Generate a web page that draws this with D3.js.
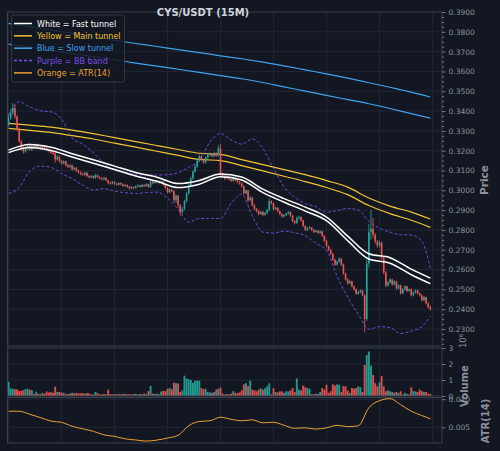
<!DOCTYPE html>
<html><head><meta charset="utf-8">
<script src="https://cdn.jsdelivr.net/npm/d3@7"></script>
<style>body{margin:0;background:#131722;overflow:hidden}svg{display:block}</style>
</head><body>
<svg id="c" width="500" height="451"></svg>
<script>
// ---- DATA (prices in 1e-4 USDT units) ----
const open=[3330,3365,3392,3415,3372,3310,3248,3212,3196,3210,3222,3206,3224,3216,3228,3218,3212,3224,3214,3204,3198,3190,3184,3156,3170,3148,3136,3146,3126,3118,3126,3106,3114,3098,3090,3082,3078,3088,3072,3066,3072,3062,3076,3066,3060,3055,3063,3050,3038,3034,3043,3034,3028,3037,3030,3022,3027,3018,3010,3017,3012,3020,3025,3018,3027,3021,3031,3017,3044,3036,3041,3047,3038,3045,3030,3012,2990,3003,2996,2950,2972,2925,2890,2908,2945,2985,3025,3060,3095,3120,3150,3172,3155,3140,3165,3178,3184,3172,3188,3175,3212,3082,3072,3060,3069,3056,3048,3063,3050,3042,3035,3020,2985,2999,2950,2963,2925,2906,2895,2880,2891,2876,2886,2900,2946,2935,2905,2912,2895,2880,2868,2875,2883,2890,2872,2845,2835,2860,2865,2848,2820,2800,2808,2813,2800,2790,2796,2785,2793,2770,2745,2718,2700,2680,2650,2625,2640,2655,2625,2580,2550,2530,2540,2515,2500,2478,2486,2495,2470,2350,2630,2790,2805,2775,2742,2722,2736,2660,2585,2520,2535,2550,2525,2540,2505,2520,2480,2500,2515,2492,2500,2470,2485,2495,2480,2470,2445,2460,2430,2410];
const high=[3385,3410,3440,3432,3380,3318,3255,3222,3220,3232,3236,3230,3230,3235,3232,3224,3230,3228,3218,3210,3206,3200,3192,3178,3175,3152,3152,3150,3134,3132,3130,3120,3118,3104,3096,3090,3094,3092,3078,3078,3076,3084,3080,3070,3066,3068,3066,3054,3044,3048,3046,3038,3042,3040,3034,3032,3030,3022,3022,3020,3026,3030,3028,3032,3030,3036,3034,3050,3048,3046,3052,3050,3050,3048,3034,3016,3010,3008,3000,2980,2976,2930,2915,2952,2992,3032,3068,3102,3130,3158,3182,3178,3160,3172,3186,3190,3188,3194,3192,3228,3235,3090,3078,3076,3072,3062,3070,3066,3054,3046,3040,3024,3006,3002,2970,2966,2930,2912,2900,2896,2894,2892,2906,2960,2950,2938,2918,2915,2898,2884,2880,2888,2896,2894,2876,2850,2868,2872,2868,2852,2824,2815,2820,2816,2804,2802,2800,2798,2796,2774,2750,2722,2705,2684,2655,2646,2662,2658,2630,2584,2556,2546,2544,2520,2505,2492,2500,2498,2475,2660,2830,2900,2860,2785,2750,2745,2740,2665,2592,2542,2556,2554,2546,2544,2526,2524,2506,2520,2518,2506,2504,2490,2500,2498,2484,2474,2466,2464,2434,2418];
const low=[3322,3355,3380,3360,3300,3240,3200,3185,3190,3202,3200,3200,3210,3210,3212,3205,3208,3208,3198,3190,3184,3178,3140,3150,3140,3128,3130,3120,3112,3112,3100,3100,3092,3084,3076,3072,3074,3066,3060,3062,3056,3058,3062,3054,3050,3050,3046,3030,3028,3030,3028,3022,3024,3024,3016,3018,3012,3004,3006,3006,3008,3014,3012,3014,3016,3018,3012,3014,3030,3032,3036,3032,3034,3024,3006,2984,2986,2990,2940,2936,2912,2872,2882,2900,2938,2978,3018,3052,3088,3112,3142,3148,3134,3136,3160,3170,3166,3168,3168,3170,3070,3064,3052,3056,3050,3042,3044,3044,3036,3028,3012,2978,2980,2942,2944,2918,2900,2888,2874,2876,2870,2872,2880,2895,2928,2898,2900,2888,2874,2862,2864,2870,2878,2866,2838,2828,2830,2852,2842,2814,2794,2795,2804,2794,2784,2786,2780,2780,2764,2740,2712,2694,2674,2644,2618,2620,2634,2618,2574,2544,2524,2526,2510,2494,2472,2472,2480,2464,2284,2340,2610,2750,2760,2730,2710,2712,2650,2576,2510,2512,2528,2518,2520,2498,2500,2474,2476,2494,2486,2488,2464,2466,2480,2474,2464,2438,2440,2424,2404,2392];
const close=[3365,3392,3415,3372,3310,3248,3212,3196,3210,3222,3206,3224,3216,3228,3218,3212,3224,3214,3204,3198,3190,3184,3156,3170,3148,3136,3146,3126,3118,3126,3106,3114,3098,3090,3082,3078,3088,3072,3066,3072,3062,3076,3066,3060,3055,3063,3050,3038,3034,3043,3034,3028,3037,3030,3022,3027,3018,3010,3017,3012,3020,3025,3018,3027,3021,3031,3017,3044,3036,3041,3047,3038,3045,3030,3012,2990,3003,2996,2950,2972,2925,2890,2908,2945,2985,3025,3060,3095,3120,3150,3172,3155,3140,3165,3178,3184,3172,3188,3175,3212,3082,3072,3060,3069,3056,3048,3063,3050,3042,3035,3020,2985,2999,2950,2963,2925,2906,2895,2880,2891,2876,2886,2900,2946,2935,2905,2912,2895,2880,2868,2875,2883,2890,2872,2845,2835,2860,2865,2848,2820,2800,2808,2813,2800,2790,2796,2785,2793,2770,2745,2718,2700,2680,2650,2625,2640,2655,2625,2580,2550,2530,2540,2515,2500,2478,2486,2495,2470,2350,2630,2790,2805,2775,2742,2722,2736,2660,2585,2520,2535,2550,2525,2540,2505,2520,2480,2500,2515,2492,2500,2470,2485,2495,2480,2470,2445,2460,2430,2410,2400];
// volume in units of 10^6
const volume=[0.89,0.48,0.46,0.42,0.42,0.31,0.33,0.37,0.44,0.45,0.40,0.37,0.12,0.27,0.15,0.12,0.20,0.14,0.28,0.22,0.24,0.20,0.58,0.25,0.25,0.22,0.20,0.12,0.12,0.15,0.20,0.18,0.20,0.16,0.18,0.18,0.14,0.18,0.16,0.10,0.10,0.25,0.18,0.10,0.10,0.12,0.10,0.40,0.12,0.10,0.12,0.10,0.14,0.10,0.12,0.14,0.10,0.12,0.10,0.12,0.14,0.10,0.12,0.10,0.16,0.12,0.30,0.63,0.15,0.12,0.15,0.10,0.28,0.32,0.30,0.45,0.50,0.42,0.83,0.80,0.78,0.25,0.35,1.27,1.10,1.05,1.00,0.82,0.96,0.96,0.96,0.50,0.42,0.45,0.25,0.22,0.20,0.25,0.40,0.45,0.52,0.15,0.10,0.12,0.10,0.15,0.30,0.20,0.18,0.22,0.35,0.73,0.80,0.62,0.96,0.40,0.37,0.30,0.40,0.48,0.40,0.48,0.60,0.79,0.10,0.48,0.25,0.22,0.30,0.28,0.20,0.30,0.28,0.35,0.50,0.25,1.10,0.40,0.35,0.65,0.55,0.50,0.45,0.12,0.10,0.15,0.12,0.25,0.50,0.40,0.70,0.20,0.30,0.73,0.65,0.73,0.70,0.25,0.63,0.60,0.35,0.20,0.50,0.45,0.50,0.60,0.55,0.25,1.94,2.56,2.78,1.90,1.31,0.80,0.60,0.85,1.25,0.60,0.30,0.35,0.30,0.25,0.20,0.25,0.20,0.30,0.10,0.20,0.12,0.10,0.55,0.30,0.28,0.25,0.40,0.30,0.25,0.25,0.15,0.12];
// tunnel lines sampled every 10 candles
const lineIdx=[0,10,20,30,40,50,60,70,80,90,100,110,120,130,140,150,160,170,180,190,199];
const fastUpper=[0.3203,0.3231,0.3217,0.3185,0.3154,0.3122,0.3090,0.3066,0.3034,0.3050,0.3082,0.3067,0.3006,0.2958,0.2915,0.2865,0.2769,0.2680,0.2660,0.2602,0.2557];
const fastLower=[0.3190,0.3216,0.3201,0.3168,0.3137,0.3105,0.3072,0.3046,0.3014,0.3031,0.3069,0.3052,0.2988,0.2940,0.2895,0.2847,0.2746,0.2653,0.2632,0.2574,0.2529];
const mainUpper=[0.3338,0.3329,0.3319,0.3304,0.3286,0.3266,0.3246,0.3226,0.3206,0.3187,0.3181,0.3155,0.3130,0.3104,0.3079,0.3049,0.3016,0.2961,0.2920,0.2890,0.2855];
const mainLower=[0.3313,0.3303,0.3292,0.3276,0.3259,0.3238,0.3218,0.3197,0.3176,0.3156,0.3150,0.3125,0.3098,0.3071,0.3044,0.3014,0.2978,0.2923,0.2882,0.2849,0.2813];
const slowUpper=[0.3843,0.3826,0.3809,0.3792,0.3775,0.3758,0.3741,0.3726,0.3710,0.3695,0.3679,0.3664,0.3647,0.3628,0.3608,0.3588,0.3566,0.3543,0.3520,0.3496,0.3471];
const slowLower=[0.3738,0.3722,0.3707,0.3690,0.3675,0.3659,0.3642,0.3627,0.3611,0.3595,0.3579,0.3563,0.3544,0.3522,0.3501,0.3479,0.3458,0.3437,0.3413,0.3387,0.3364];
// BB band and ATR sampled every 5 candles
const bandIdx=[0,5,10,15,20,25,30,35,40,45,50,55,60,65,70,75,80,85,90,95,100,105,110,115,120,125,130,135,140,145,150,155,160,165,170,175,180,185,190,195,199];
const bbUpper=[0.3380,0.3447,0.3421,0.3401,0.3396,0.3360,0.3264,0.3233,0.3189,0.3137,0.3100,0.3092,0.3082,0.3077,0.3077,0.3079,0.3089,0.3117,0.3150,0.3243,0.3287,0.3254,0.3233,0.3259,0.3211,0.3112,0.3016,0.2966,0.2933,0.2918,0.2890,0.2897,0.2909,0.2900,0.2844,0.2809,0.2789,0.2776,0.2774,0.2743,0.2607];
const bbLower=[0.2984,0.3014,0.3097,0.3122,0.3116,0.3084,0.3059,0.3026,0.3001,0.3009,0.2996,0.2988,0.2984,0.2988,0.2991,0.2961,0.2905,0.2839,0.2858,0.2858,0.2858,0.2935,0.2981,0.2870,0.2789,0.2784,0.2794,0.2786,0.2771,0.2732,0.2698,0.2567,0.2461,0.2375,0.2299,0.2312,0.2307,0.2277,0.2289,0.2312,0.2365];
const atr=[0.00786,0.00786,0.00732,0.00673,0.00611,0.00589,0.00518,0.00473,0.00429,0.00366,0.00339,0.00295,0.00275,0.00255,0.00273,0.00309,0.00357,0.00527,0.00604,0.00616,0.00679,0.00643,0.00616,0.00634,0.00580,0.00589,0.00536,0.00482,0.00491,0.00468,0.00491,0.00536,0.00512,0.00527,0.00848,0.00973,0.01009,0.00902,0.00786,0.00709,0.00652];
const priceTicks=[0.23,0.24,0.25,0.26,0.27,0.28,0.29,0.30,0.31,0.32,0.33,0.34,0.35,0.36,0.37,0.38,0.39];
const volTicks=[0,1,2,3];
const atrTicks=[0.005,0.010];
const xGrid=[0,25,50,75,100,125,150,175,200];
const legendItems=[["White = Fast tunnel","#ffffff",false],["Yellow = Main tunnel","#f2c230",false],["Blue = Slow tunnel","#3fa2ee",false],["Purple = BB band","#7d4fe6",true],["Orange = ATR(14)","#f0a030",false]];

// ---- DRAW ----
const svg=d3.select("#c");
const BG="#131722", GRID="#252a3a", SPINE="#3b3f4b", TXT="#8d919b";
const FONT="DejaVu Sans, sans-serif";
svg.append("rect").attr("width",500).attr("height",451).attr("fill",BG);
const L=7.5,R=442;
const panels={main:[12,346],vol:[348,396],atr:[397.5,443]};
const x=d3.scaleLinear().domain([-0.5,204.5]).range([L,R]);
const yP=d3.scaleLinear().domain([0.22142,0.39]).range([346,12]);
const yV=d3.scaleLinear().domain([0,3]).range([396,348]);
const yA=d3.scaleLinear().domain([0.00221,0.0103]).range([443,397.5]);

// grids
Object.values(panels).forEach(([t,b])=>{
  svg.append("g").selectAll("line").data(xGrid).join("line")
   .attr("x1",d=>x(d)).attr("x2",d=>x(d)).attr("y1",t).attr("y2",b)
   .attr("stroke",GRID).attr("stroke-width",0.8);
});
function hgrid(ticks,sc,t,b){
  svg.append("g").selectAll("line").data(ticks.filter(v=>sc(v)>t+0.5&&sc(v)<b-0.5)).join("line")
   .attr("x1",L).attr("x2",R).attr("y1",d=>sc(d)).attr("y2",d=>sc(d))
   .attr("stroke",GRID).attr("stroke-width",0.8);
}
hgrid(priceTicks,yP,...panels.main);
hgrid(volTicks,yV,...panels.vol);
hgrid(atrTicks,yA,...panels.atr);

// clip for main
const defs=svg.append("defs");
defs.append("clipPath").attr("id","cm").append("rect").attr("x",L).attr("y",12).attr("width",R-L).attr("height",334);

const mg=svg.append("g").attr("clip-path","url(#cm)");
const UP="#26a69a", DN="#ef5350";
const idx=d3.range(close.length);
function drawLine(g,ix,vals,sc,color,w,dash){
  const ln=d3.line().x((d,i)=>x(ix[i])).y(d=>sc(d)).curve(d3.curveMonotoneX);
  const p=g.append("path").attr("d",ln(vals)).attr("fill","none").attr("stroke",color).attr("stroke-width",w);
  if(dash) p.attr("stroke-dasharray",dash);
}
drawLine(mg,lineIdx,slowUpper,yP,"#3fa2ee",1.2);
drawLine(mg,lineIdx,slowLower,yP,"#3fa2ee",1.2);
drawLine(mg,lineIdx,mainUpper,yP,"#f2c230",1.2);
drawLine(mg,lineIdx,mainLower,yP,"#f2c230",1.2);
drawLine(mg,bandIdx,bbUpper,yP,"#7d4fe6",0.9,"3,2");
drawLine(mg,bandIdx,bbLower,yP,"#7d4fe6",0.9,"3,2");
// candles
const cg=mg.append("g");
cg.selectAll("line").data(idx).join("line")
  .attr("x1",i=>x(i)).attr("x2",i=>x(i))
  .attr("y1",i=>yP(high[i]/1e4)).attr("y2",i=>yP(low[i]/1e4))
  .attr("stroke",i=>close[i]>=open[i]?UP:DN).attr("stroke-width",0.8);
cg.selectAll("rect").data(idx).join("rect")
  .attr("x",i=>x(i)-0.8).attr("width",1.6)
  .attr("y",i=>yP(Math.max(open[i],close[i])/1e4))
  .attr("height",i=>Math.max(0.7,Math.abs(yP(open[i]/1e4)-yP(close[i]/1e4))))
  .attr("fill",i=>close[i]>=open[i]?UP:DN);
drawLine(mg,lineIdx,fastUpper,yP,"#ffffff",1.5);
drawLine(mg,lineIdx,fastLower,yP,"#ffffff",1.5);

// volume
svg.append("g").selectAll("rect").data(idx).join("rect")
  .attr("x",i=>x(i)-0.95).attr("width",1.9)
  .attr("y",i=>yV(volume[i])).attr("height",i=>yV(0)-yV(volume[i]))
  .attr("fill",i=>close[i]>=open[i]?UP:DN).attr("opacity",0.9);

// atr
drawLine(svg,bandIdx,atr,yA,"#f0a030",1);

// spines
Object.values(panels).forEach(([t,b])=>{
  svg.append("rect").attr("x",L).attr("y",t).attr("width",R-L).attr("height",b-t)
   .attr("fill","none").attr("stroke",SPINE).attr("stroke-width",1);
});

// axes
function styleAxis(g){
  g.select(".domain").remove();
  g.selectAll("line").attr("stroke",TXT).attr("stroke-width",0.8);
  g.selectAll("text").attr("fill",TXT).attr("font-family",FONT).attr("font-size",7.5);
}
const minor=d3.range(0.2225,0.3901,0.0025).filter(v=>Math.round(v*10000)%100!==0);
svg.append("g").attr("transform",`translate(${R},0)`)
  .call(d3.axisRight(yP).tickValues(minor).tickSize(2).tickFormat("")).call(styleAxis);
svg.append("g").attr("transform",`translate(${R},0)`)
  .call(d3.axisRight(yP).tickValues(priceTicks).tickSize(3.5).tickPadding(3).tickFormat(d3.format(".4f"))).call(styleAxis);
svg.append("g").attr("transform",`translate(${R},0)`)
  .call(d3.axisRight(yV).tickValues(volTicks).tickSize(3.5).tickPadding(3).tickFormat(d3.format("d"))).call(styleAxis);
svg.append("g").attr("transform",`translate(${R},0)`)
  .call(d3.axisRight(yA).tickValues(atrTicks).tickSize(3.5).tickPadding(3).tickFormat(d3.format(".3f"))).call(styleAxis);

// axis labels
function vlabel(txt,xx,yy,size){
  svg.append("text").attr("transform",`translate(${xx},${yy}) rotate(-90)`)
   .attr("text-anchor","middle").attr("fill",TXT).attr("font-family",FONT)
   .attr("font-weight","bold").attr("font-size",size).text(txt);
}
vlabel("Price",488,180,10.5);
vlabel("Volume",468,386,10);
vlabel("ATR(14)",489,421,10);
svg.append("text").attr("transform","translate(466,341) rotate(-90)").attr("text-anchor","middle")
  .attr("fill",TXT).attr("font-family",FONT).attr("font-size",8.5).text("10⁶");

// title
svg.append("text").attr("x",203).attr("y",16).attr("text-anchor","middle")
  .attr("fill","#d1d4dc").attr("font-family",FONT).attr("font-weight","bold").attr("font-size",10).text("CYS/USDT (15M)");

// legend
const lg=svg.append("g");
lg.append("rect").attr("x",11.5).attr("y",15).attr("width",113).attr("height",67).attr("rx",2)
  .attr("fill",BG).attr("fill-opacity",0.85).attr("stroke",SPINE).attr("stroke-width",0.8);
legendItems.forEach(([t,c,dash],k)=>{
  const yy=23.5+k*12.35;
  const l=lg.append("line").attr("x1",14).attr("x2",32).attr("y1",yy).attr("y2",yy).attr("stroke",c).attr("stroke-width",1.5);
  if(dash) l.attr("stroke-dasharray","3,2");
  lg.append("text").attr("x",37).attr("y",yy+3).attr("fill",c).attr("font-family",FONT).attr("font-size",8).text(t);
});
</script>
</body></html>
